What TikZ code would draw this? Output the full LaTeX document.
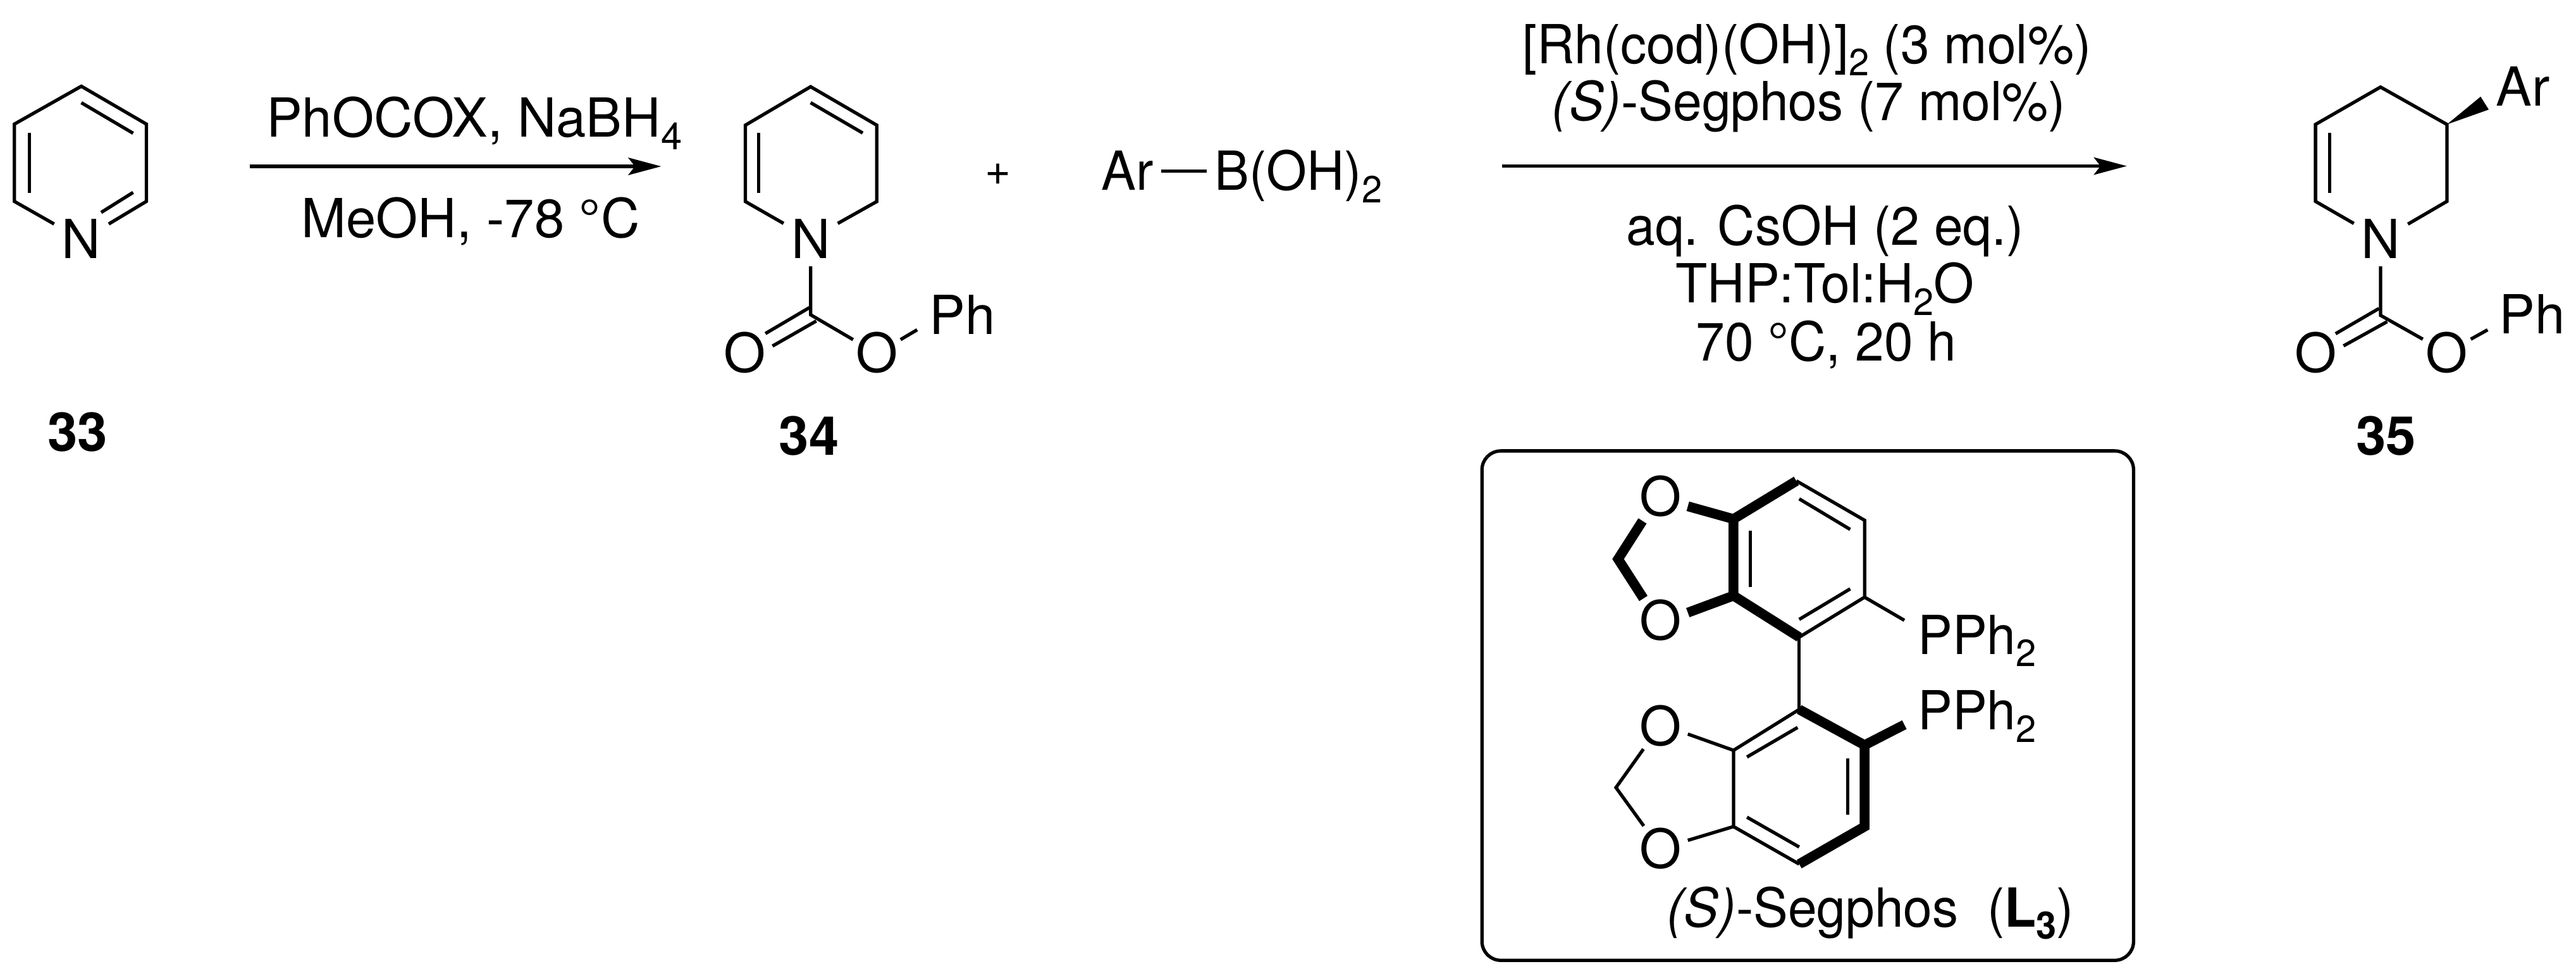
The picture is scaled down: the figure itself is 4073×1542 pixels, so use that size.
\documentclass[tikz,border=0pt]{standalone}
\usepackage{fontspec}
\usepackage{graphicx}
\setmainfont{TeX Gyre Heros}
\newfontfamily\narrow[FakeStretch=0.965]{TeX Gyre Heros}
\usetikzlibrary{arrows.meta}
\newcommand{\subs}[1]{\raisebox{-0.23em}{\fontsize{17}{17}\selectfont #1}}
\tikzset{
  bond/.style={line width=1.5pt,line join=miter,miter limit=10},
  boldbond/.style={line width=4.4pt,line join=miter,miter limit=10},
  rxn/.style={line width=1.5pt,-{Stealth[length=14.8pt,width=7.8pt,inset=3pt]}},
  atom/.style={inner sep=0pt,outer sep=0pt,anchor=base,font=\fontsize{24.2}{24.2}\selectfont},
  atomw/.style={inner sep=0pt,outer sep=0pt,anchor=base west,font=\fontsize{24.2}{24.2}\selectfont},
  natomw/.style={inner sep=0pt,outer sep=0pt,anchor=base west,font=\narrow\fontsize{24.2}{24.2}\selectfont},
  cpd/.style={inner sep=0pt,outer sep=0pt,anchor=base,font=\fontsize{24.2}{24.2}\selectfont\bfseries},
  cond/.style={inner sep=0pt,outer sep=0pt,anchor=base,font=\fontsize{24.2}{24.2}\selectfont},
  ncond/.style={inner sep=0pt,outer sep=0pt,anchor=base,font=\narrow\fontsize{24.2}{24.2}\selectfont},
  ligbox/.style={line width=1.5pt,rounded corners=8.5pt}
}
\begin{document}
\begin{tikzpicture}[x=0.01cm,y=-0.01cm]
\useasboundingbox (0,0) rectangle (4073,1542);
% 33 and first arrow
\begin{scope}[shift={(0,0.208)},xscale=0.9891,yscale=0.9974]
\draw[bond] (86.5,354.8) -- (23,319) -- (23,196.5) -- (130,136.5) -- (234,196.5) -- (234,319) -- (173.8,354.8);
\draw[bond] (47,210) -- (47,306);
\draw[bond] (130,162.6) -- (212.8,211);
\draw[bond] (212.8,304.8) -- (161.7,336.5);
\node[atom] (n33) at (130,409) {N};
\node[cpd] (l33) at (124,715) {33};
\coordinate (a1s) at (399,263.5);
\coordinate (a1e) at (1057,263.5);
\draw[rxn] (a1s) -- (a1e);
\node[cond] (c1a) at (758,217) {PhOCOX, NaBH\subs{4}};
\node[cond] (c1b) at (752,376) {MeOH, -78 °C};
\end{scope}
% 34
\begin{scope}[shift={(13.86,1.09)},xscale=0.9874,yscale=0.9891]
\draw[bond] (1240.7,356) -- (1179.5,321) -- (1179.5,199) -- (1284,137.5) -- (1390,199) -- (1390,321) -- (1327.5,356);
\draw[bond] (1201,211.5) -- (1201,307.7);
\draw[bond] (1284,163) -- (1367.4,211.5);
\draw[bond] (1284,424.7) -- (1284,502) -- (1352,541.7);
\draw[bond] (1282,490.6) -- (1211.6,532);
\draw[bond] (1293,512) -- (1223,552);
\draw[bond] (1428,541.7) -- (1454.6,526);
\node[atom] (n34) at (1284.5,411.5) {N};
\node[atom] (o34a) at (1179,594) {O};
\node[atom] (o34b) at (1390,594) {O};
\node[atomw] (ph34) at (1474,533) {Ph};
\node[cpd] (l34) at (1281.4,726.4) {34};
\node[inner sep=0pt,font=\fontsize{20}{20}\selectfont] (plus) at (1584.5,277.4) {+};
\end{scope}
% boronic acid
\begin{scope}[shift={(17.6,0)},xscale=0.989,yscale=0.9885]
\node[natomw] (ar) at (1743.5,304) {Ar};
\node[natomw] (boh) at (1924,304) {B(OH)\subs{2}};
\draw[bond] (1839,274) -- (1911,274);
\end{scope}
% arrow 2 and conditions
\begin{scope}[shift={(27.4,0)},xscale=0.9883,yscale=0.9885]
\coordinate (a2s) at (2375,265.6);
\coordinate (a2e) at (3375,265.6);
\draw[rxn] (a2s) -- (a2e);
\node[ncond] (c2a) at (2863,101.4) {[Rh(cod)(OH)]\subs{2} (3 mol\%)};
\node[ncond] (c2b) at (2866,192.4) {{\itshape (S)}-Segphos (7 mol\%)};
\node[ncond] (c2c) at (2892,392) {aq. CsOH (2 eq.)};
\node[ncond] (c2d) at (2892,484) {THP:Tol:H\subs{2}O};
\node[ncond] (c2e) at (2894,577) {70 °C, 20 h};
\end{scope}
% 35
\begin{scope}[shift={(20.3,0.208)},xscale=0.9942,yscale=0.9974]
\draw[bond] (3723,354) -- (3662,319) -- (3662,197) -- (3765.4,137.8) -- (3871,197) -- (3871,319) -- (3809,355);
\draw[bond] (3684.5,210) -- (3684.5,306);
\draw[bond] (3765.4,422) -- (3765.4,499.6) -- (3832.7,537.4);
\draw[bond] (3763,488.7) -- (3694,528.7);
\draw[bond] (3776,509.6) -- (3706.6,548);
\draw[bond] (3909,537.4) -- (3935.7,522.6);
\fill (3871,197) -- (3924.6,153) -- (3937.5,173.5) -- cycle;
\node[atom] (n35) at (3766,409) {N};
\node[atom] (o35a) at (3662,590) {O};
\node[atom] (o35b) at (3871,590) {O};
\node[atomw] (ph35) at (3954,529) {Ph};
\node[atomw] (ar35) at (3949,168) {Ar};
\node[cpd] (l35) at (3774,721) {35};
\end{scope}
% box and ligand
\begin{scope}[shift={(25.3,8.26)},xscale=0.9891,yscale=0.9882]
\draw[ligbox] (2343.4,713) rectangle (3385,1528);
\draw[bond] (2846,761) -- (2955,824) -- (2955,947) -- (2850.5,1011);
\draw[boldbond] (2846,761) -- (2745.5,822) -- (2745.5,944.6) -- (2850.5,1011);
\draw[bond] (2850.5,789.7) -- (2932,838.6);
\draw[bond] (2772.5,841) -- (2772.5,931);
\draw[bond] (2932,933.7) -- (2850.5,982.6);
\draw[bond] (2955,947) -- (3018.6,984);
\draw[boldbond] (2672.5,801.6) -- (2745.5,822);
\draw[boldbond] (2672.5,971.7) -- (2745.5,944.6);
\draw[boldbond] (2600,825) -- (2561,886) -- (2601.5,949);
\node[atom] (oa) at (2628.5,817) {O};
\node[atom] (ob) at (2628.5,1015) {O};
\node[natomw] (pa) at (3040,1038) {PPh\subs{2}};
\draw[bond] (2850.5,1011) -- (2850.5,1126.6);
\draw[bond] (2850.5,1126.6) -- (2745.5,1192) -- (2745.5,1314) -- (2850.5,1374);
\draw[boldbond] (2850.5,1126.6) -- (2955,1183.7) -- (2955,1314) -- (2850.5,1374);
\draw[bond] (2848,1155.4) -- (2767,1202.7);
\draw[bond] (2928,1205) -- (2928,1295);
\draw[bond] (2767,1299) -- (2850.5,1346.7);
\draw[boldbond] (2955,1183.7) -- (3018.6,1151);
\draw[bond] (2672.5,1166) -- (2745.5,1192);
\draw[bond] (2672.5,1336) -- (2745.5,1314);
\draw[bond] (2601.5,1190) -- (2557.6,1251.6) -- (2602,1313);
\node[atom] (oc) at (2628.5,1184) {O};
\node[atom] (od) at (2628.5,1381) {O};
\node[natomw] (pb) at (3040,1159) {PPh\subs{2}};
\node[natomw] (lig) at (2639,1474.5) {{\itshape (S)}-Segphos~~({\bfseries L\raisebox{-0.23em}{\fontsize{17}{17}\selectfont 3}})};
\end{scope}
\end{tikzpicture}
\end{document}
